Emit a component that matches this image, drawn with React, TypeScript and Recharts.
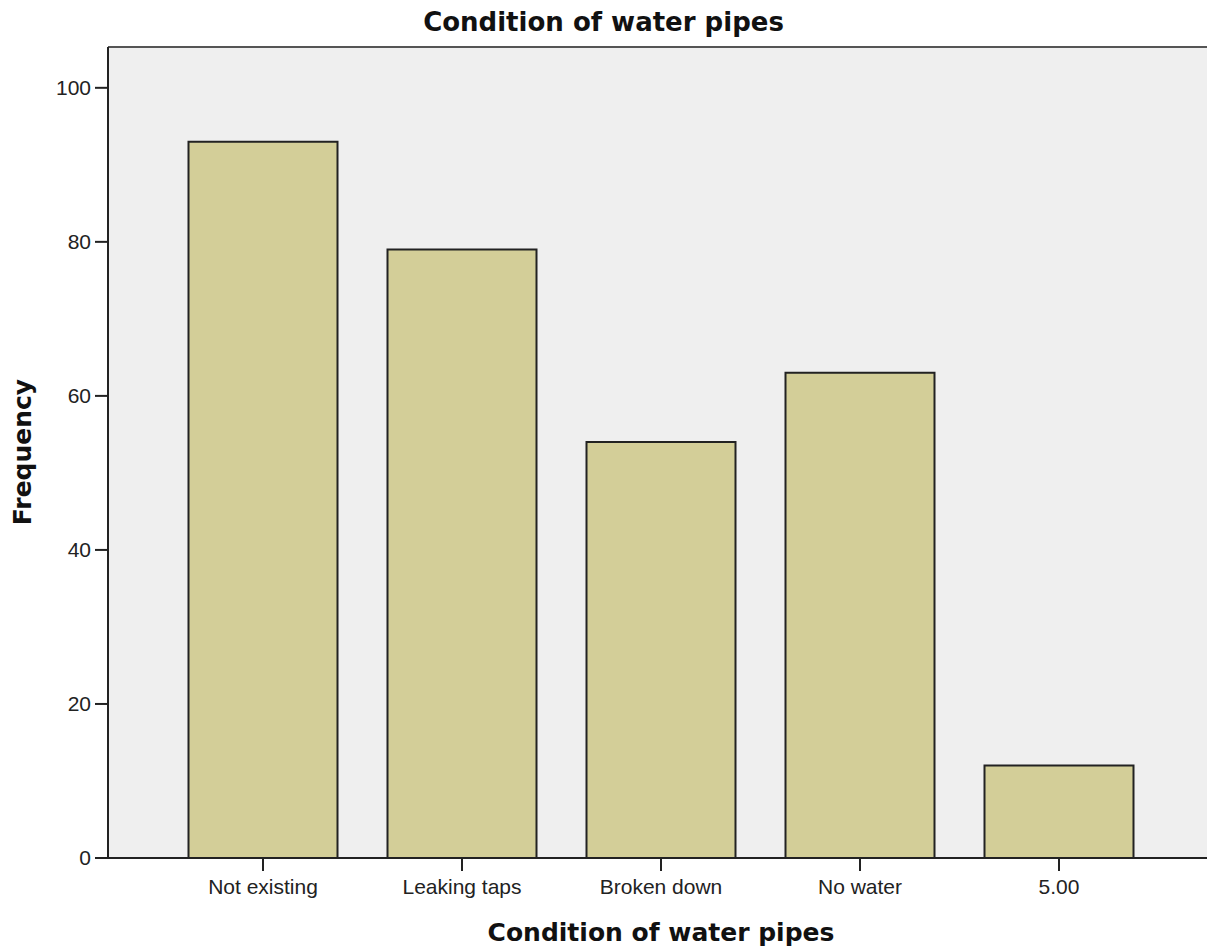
import { BarChart, Bar, XAxis, YAxis, CartesianGrid, ReferenceLine } from "recharts";

const categories = ["Not existing", "Leaking taps", "Broken down", "No water", "5.00"];
const frequencies = [93, 79, 54, 63, 12];
const yTicks = [0, 20, 40, 60, 80, 100];
const Y_MAX = 105.3;

const data = categories.map((name, i) => ({ name, frequency: frequencies[i] }));

const tickStyle = { fill: "#222", fontSize: 21, fontFamily: "'Liberation Sans', Arial, sans-serif" };
const titleFont = "'DejaVu Sans', Verdana, sans-serif";

export default function App() {
  return (
    <div
      style={{
        position: "absolute",
        left: 0,
        top: 0,
        width: 1207,
        height: 950,
        overflow: "hidden",
        background: "#fff",
      }}
    >
      <div
        style={{
          position: "absolute",
          left: 0,
          top: 0,
          width: 1207,
          textAlign: "center",
          fontFamily: titleFont,
          fontWeight: "bold",
          fontSize: 26,
          lineHeight: "26px",
          color: "#111",
          paddingTop: 9,
        }}
      >
        Condition of water pipes
      </div>
      <BarChart
        width={1230}
        height={950}
        data={data}
        margin={{ top: 47, right: 16, bottom: 0, left: 0 }}
        barSize={149}
      >
        <CartesianGrid fill="#efefef" horizontal={false} vertical={false} />
        <ReferenceLine y={Y_MAX} stroke="#555" strokeWidth={2} />
        <XAxis
          dataKey="name"
          padding={{ left: 55.5, right: 55.5 }}
          axisLine={{ stroke: "#222", strokeWidth: 2 }}
          tickLine={{ stroke: "#222", strokeWidth: 2 }}
          tickSize={13}
          tickMargin={8}
          tick={tickStyle}
          interval={0}
          height={92}
          label={(props: any) => {
            const vb = props.viewBox || { x: 108, width: 1106 };
            return (
              <text
                x={vb.x + vb.width / 2}
                y={941}
                textAnchor="middle"
                fontFamily={titleFont}
                fontWeight="bold"
                fontSize={25}
                fill="#111"
              >
                Condition of water pipes
              </text>
            );
          }}
        />
        <YAxis
          width={108}
          domain={[0, Y_MAX]}
          ticks={yTicks}
          axisLine={{ stroke: "#222", strokeWidth: 2 }}
          tickLine={{ stroke: "#222", strokeWidth: 2 }}
          tickSize={13}
          tickMargin={4}
          tick={tickStyle}
          label={() => (
            <text
              x={31}
              y={452}
              transform="rotate(-90 31 452)"
              textAnchor="middle"
              fontFamily={titleFont}
              fontWeight="bold"
              fontSize={25}
              fill="#111"
            >
              Frequency
            </text>
          )}
        />
        <Bar
          dataKey="frequency"
          fill="#d3ce98"
          stroke="#222"
          strokeWidth={2}
          isAnimationActive={false}
        />
      </BarChart>
    </div>
  );
}
